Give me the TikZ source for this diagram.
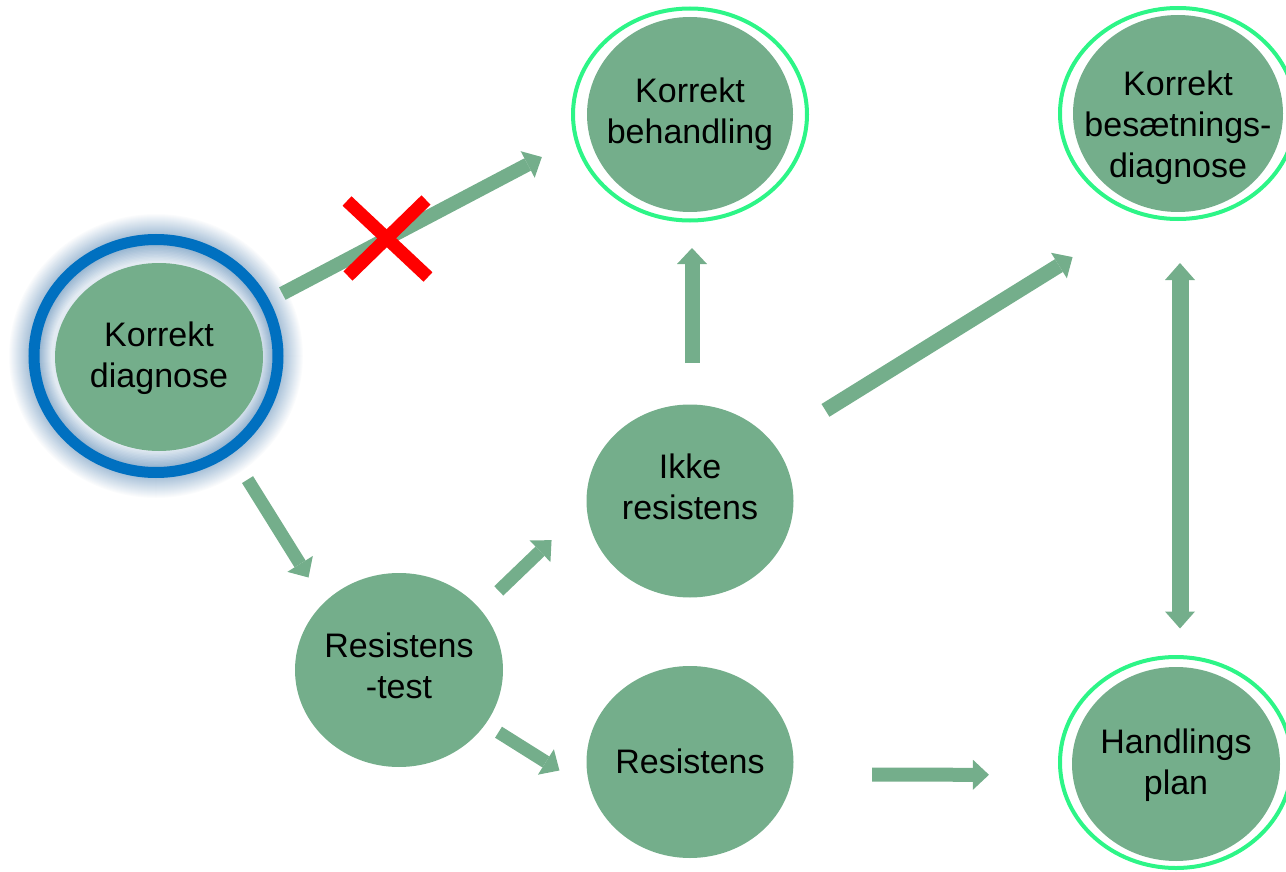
\documentclass[tikz,border=0pt]{standalone}
\usepackage{fontspec}
\setmainfont{Liberation Sans}
\usetikzlibrary{shapes.geometric,arrows.meta}
\definecolor{diskg}{RGB}{116,174,139}
\definecolor{ringg}{RGB}{45,245,135}
\definecolor{kdblue}{RGB}{0,112,192}
\definecolor{glowc}{RGB}{150,180,208}
\newcommand\ctext[2]{\makebox[0pt]{\raisebox{#1}[\height][\depth]{\begin{tabular}{@{}c@{}}#2\end{tabular}}}}
\begin{document}
\begin{tikzpicture}[x=1pt,y=-1pt,
  disk/.style={ellipse, fill=diskg, inner sep=0pt, outer sep=0pt,
    minimum width=207pt, minimum height=193pt,
    font=\fontsize{34}{41}\selectfont},
  ringline/.style={draw=ringg, line width=4pt},
  tipa/.tip={Triangle[length=16pt,width=30pt,line width=0pt]},
  arr/.style={draw=diskg, line width=14pt, -tipa},
  darr/.style={draw=diskg, line width=17pt,
    {Triangle[length=17pt,width=30pt,line width=0pt]}-{Triangle[length=17pt,width=30pt,line width=0pt]}},
  crossline/.style={draw=red, line width=13pt}
]
\useasboundingbox (0,0) rectangle (1286,872);

% glow around the selected node
\foreach \k in {20,...,1}{
  \pgfmathtruncatemacro\p{(21-\k)*4}
  \pgfmathsetmacro\rx{127+\k}
  \pgfmathsetmacro\ry{122+\k}
  \fill[glowc!\p!white] (156,356) ellipse [x radius=\rx pt, y radius=\ry pt];
}
\foreach \j in {0,...,12}{
  \pgfmathtruncatemacro\p{100-\j*6}
  \pgfmathsetmacro\rx{117-\j}
  \pgfmathsetmacro\ry{112-\j*1.4}
  \fill[glowc!\p!white] (156,356) ellipse [x radius=\rx pt, y radius=\ry pt];
}
\draw[kdblue, line width=11pt] (156,356) ellipse [x radius=122pt, y radius=116.5pt];

% nodes
\node[disk, minimum width=208pt, minimum height=188pt] (kd) at (159,357) {\ctext{-2pt}{Korrekt\\diagnose}};
\node[disk, minimum width=206pt, minimum height=195pt] (kb) at (690,114.5) {\ctext{0pt}{Korrekt\\behandling}};
\node[disk, minimum width=210pt, minimum height=197pt] (kbd) at (1178,113.5) {\ctext{-15pt}{Korrekt\\besætnings-\\diagnose}};
\node[disk] (ir) at (690,501) {\ctext{10pt}{Ikke\\resistens}};
\node[disk, minimum width=208pt, minimum height=194pt] (rt) at (399,670) {\ctext{0pt}{Resistens\\-test}};
\node[disk, minimum height=192pt] (rs) at (690,762) {\ctext{-3pt}{Resistens}};
\node[disk, minimum width=208pt, minimum height=194pt] (hp) at (1176,764) {\ctext{-2pt}{Handlings\\plan}};

% rings
\draw[ringline] (kb.center) ellipse [x radius=117pt, y radius=106pt];
\draw[ringline] (kbd.center) ellipse [x radius=118pt, y radius=105.5pt];
\draw[ringline] ([yshift=1.5pt]hp.center) ellipse [x radius=116pt, y radius=105.5pt];

% connectors
\draw[arr, shorten <=37pt, shorten >=53pt] (kd.27.5) -- (kb.190.7);
\draw[arr, line width=13pt, shorten <=54pt, shorten >=29.6pt] (kd.-52.3) -- (rt.138.4);
\draw[arr, line width=13pt, shorten <=26.2pt, shorten >=48.7pt] (rt.37.9) -- (ir.183.8);
\draw[arr, line width=13pt, shorten <=15.5pt, shorten >=37.4pt] (rt.-32.5) -- (rs.196.9);
\draw[arr, line width=15pt, shorten <=41.5pt, shorten >=36pt, transform canvas={xshift=2pt}] (ir.north) -- (kb.south);
\draw[arr, line width=15pt, shorten <=62pt, shorten >=92pt] (ir.35.4) -- (kbd.254.3);
\draw[arr, shorten <=79.5pt, shorten >=83.7pt] (rs.-7.22) -- (hp.186.08);
\draw[darr, shorten <=51pt, shorten >=38.5pt, transform canvas={xshift=2pt}] (kbd.south) -- (kbd.south |- hp.north);

% red cross on the first connector
\draw[crossline] (347,201) -- (428,277);
\draw[crossline] (426,200) -- (348,276);
\end{tikzpicture}
\end{document}
